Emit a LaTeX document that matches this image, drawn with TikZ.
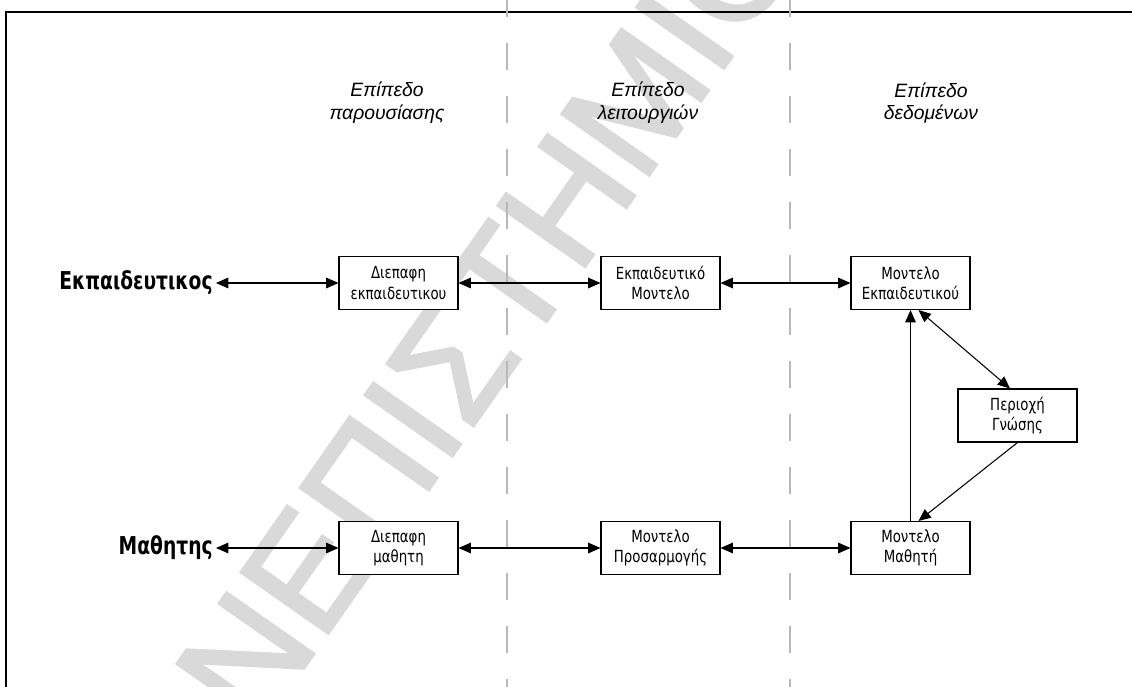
\documentclass[tikz,border=0pt]{standalone}
\usepackage{fontspec}
\setmainfont{DejaVu Sans}
\newfontfamily\hdrfont{Liberation Sans}
\newfontfamily\marcafont{Liberation Sans}[FakeBold=2]
\newfontfamily\boxfont{DejaVu Sans}[FakeStretch=0.8]
\newfontfamily\atorfont{DejaVu Sans}[FakeStretch=0.76]
\usetikzlibrary{arrows.meta}

\begin{document}
\begin{tikzpicture}[x=0.02cm,y=-0.02cm,
    caixa/.style={draw,fill=white,line width=0.6pt,minimum width=2.38cm,minimum height=1.06cm,
        inner sep=0pt,align=center,font=\boxfont\fontsize{9.5}{11.5}\selectfont},
    ator/.style={anchor=east,inner xsep=0.06cm,inner ysep=0pt,font=\atorfont\bfseries\fontsize{14}{16}\selectfont},
    nivel/.style={align=center,font=\hdrfont\itshape\fontsize{11}{13}\selectfont},
    seta/.style={line width=0.6pt,{Triangle[length=7pt,width=6pt]}-{Triangle[length=7pt,width=6pt]}},
    ida/.style={line width=0.6pt,-{Triangle[length=7pt,width=6pt]}},
    divisa/.style={draw=black!28,line width=0.6pt,dash pattern=on 0.54cm off 0.52cm}]

        \useasboundingbox (0,0) rectangle (1132,686);
        \clip (0,0) rectangle (1132,686);

        % marca d'agua
        \node[rotate=55,inner sep=0pt,text=black!15,font=\marcafont\fontsize{88}{88}\selectfont] (marca) at (428,398) {ΠΑΝΕΠΙΣΤΗΜΙΟ};

        % moldura
        \draw[line width=1.1pt] (6,700) -- (6,12) -- (1140,12);

        % divisoes
        \draw[divisa] (507,-10) -- (507,700);
        \draw[divisa] (790,-10) -- (790,700);

        \node[nivel] (nivApres) at (387,103) {Επίπεδο\\παρουσίασης};
        \node[nivel] (nivFunc) at (648,103) {Επίπεδο\\λειτουργιών};
        \node[nivel] (nivDados) at (931,103) {Επίπεδο\\δεδομένων};

        % linha de cima
        \node[ator] (ekp) at (216,283) {Εκπαιδευτικος};
        \node[caixa] (diepEkp) at (398.5,283) {Διεπαφη\\εκπαιδευτικου};
        \node[caixa] (ekpMont) at (660.5,283) {Εκπαιδευτικό\\Μοντελο};
        \node[caixa] (montEkp) at (910.5,283) {Μοντελο\\Εκπαιδευτικού};

        \node[caixa] (periochi) at (1017.5,415.5) {Περιοχή\\Γνώσης};

        % linha de baixo
        \node[ator] (math) at (216,548) {Μαθητης};
        \node[caixa] (diepMath) at (398.5,548) {Διεπαφη\\μαθητη};
        \node[caixa] (montPros) at (660.5,548) {Μοντελο\\Προσαρμογής};
        \node[caixa] (montMath) at (910.5,548) {Μοντελο\\Μαθητή};

        \draw[seta] (ekp.east) -- (diepEkp.west);
        \draw[seta] (diepEkp) -- (ekpMont);
        \draw[seta] (ekpMont) -- (montEkp);

        \draw[seta] (math.east) -- (diepMath.west);
        \draw[seta] (diepMath) -- (montPros);
        \draw[seta] (montPros) -- (montMath);

        \draw[ida] (montMath.north) -- (montEkp.south);
        \draw[seta] ([xshift=0.16cm]montEkp.south) -- ([xshift=-0.15cm]periochi.north);
        \draw[ida] (periochi.south) -- ([xshift=0.16cm]montMath.north);

    \end{tikzpicture}
\end{document}
